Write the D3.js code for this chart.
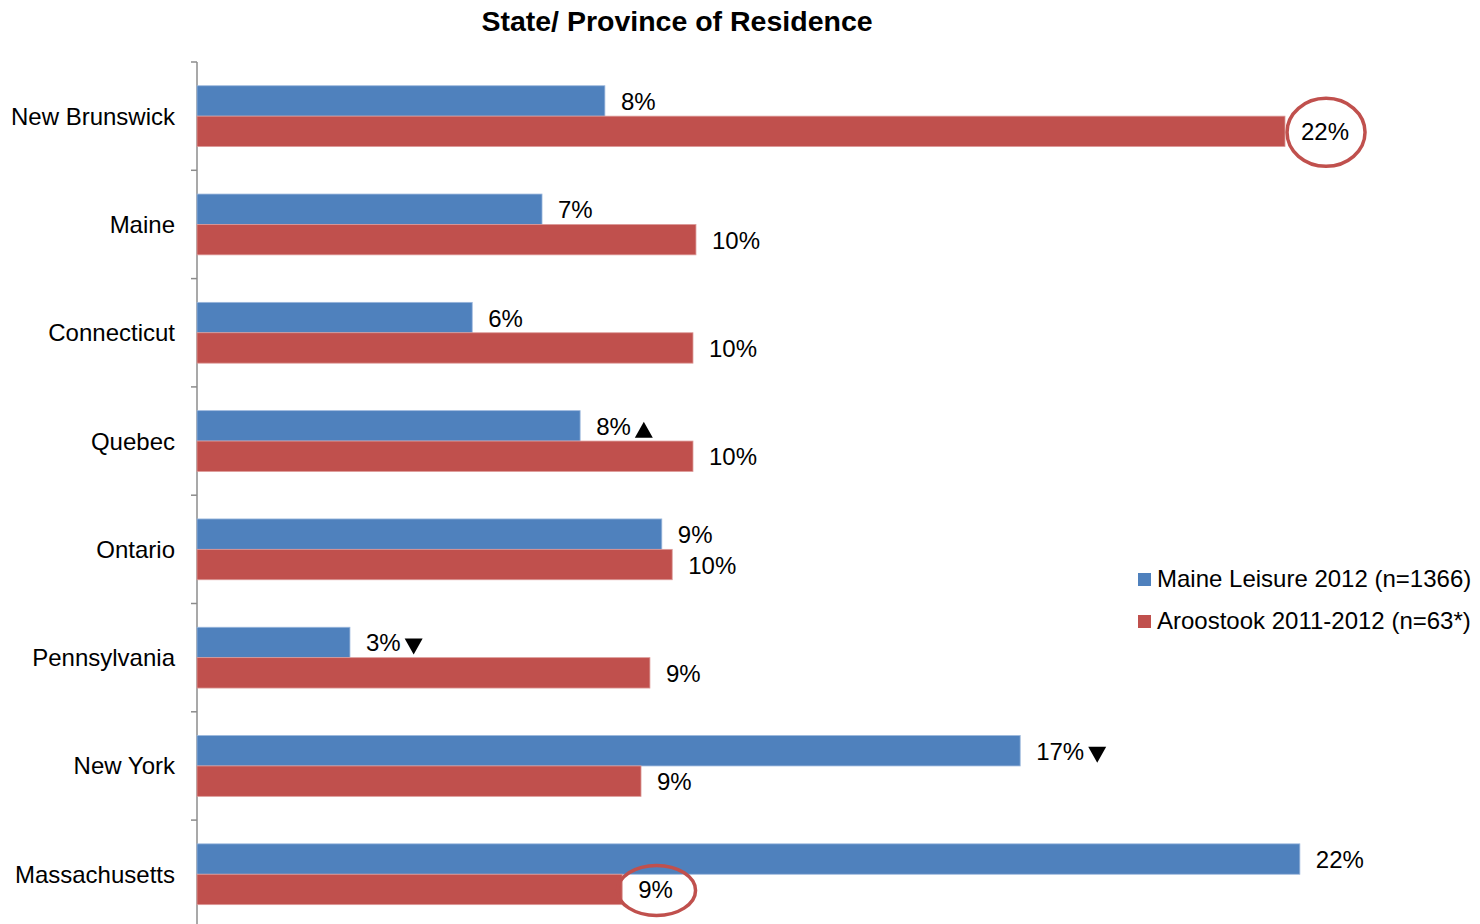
<!DOCTYPE html>
<meta charset="utf-8">
<style>
body { margin: 0; background: #fff; }
text { font-family: "Liberation Sans", Arial, sans-serif; fill: #000; }
.title { font-weight: bold; font-size: 28.5px; }
.cat, .val, .legend { font-size: 24px; }
</style>
<svg width="1480" height="924"></svg>
<script src="https://cdn.jsdelivr.net/npm/d3@7"></script>
<script>

var categories = ["New Brunswick", "Maine", "Connecticut", "Quebec", "Ontario", "Pennsylvania", "New York", "Massachusetts"];
var seriesNames = ["Maine Leisure 2012 (n=1366)", "Aroostook 2011-2012 (n=63*)"];
var maineLeisure = [8.24, 6.97, 5.56, 7.74, 9.39, 3.09, 16.63, 22.28];
var aroostook = [21.98, 10.08, 10.02, 10.02, 9.60, 9.15, 8.97, 8.59];
// significance markers on the Maine Leisure labels
var markers = [null, null, null, "up", null, "down", "down", null];
// circled Aroostook labels
var circled = ["New Brunswick", "Massachusetts"];

var colors = ["#4F81BD", "#C0504D"];

var svg = d3.select("svg");

var x = d3.scaleLinear().domain([0, 26]).range([197, 197 + 26 * 49.5]);
var y = d3.scaleBand().domain(categories).range([62, 62 + 8 * 108.3]);
var bw = y.bandwidth();
var barH = 30.4;
var gap = (bw - 2 * barH) / 2;

svg.append("text").attr("class", "title")
    .attr("x", 677).attr("y", 31)
    .attr("text-anchor", "middle")
    .text("State/ Province of Residence");

// axis line + ticks at band edges
var ax = svg.append("g");
ax.append("line")
    .attr("x1", 197).attr("x2", 197)
    .attr("y1", 62).attr("y2", 62 + 8 * 108.3)
    .attr("stroke", "#8c8c8c").attr("stroke-width", 1.5);
ax.selectAll(".tk").data(categories.concat(["end"])).enter().append("line")
    .attr("x1", 191).attr("x2", 197)
    .attr("y1", function(d, i) { return 62 + i * bw; })
    .attr("y2", function(d, i) { return 62 + i * bw; })
    .attr("stroke", "#8c8c8c").attr("stroke-width", 1.5);

svg.selectAll(".cat").data(categories).enter().append("text")
    .attr("class", "cat")
    .attr("x", 175)
    .attr("y", function(d) { return y(d) + bw / 2 + 8.5; })
    .attr("text-anchor", "end")
    .text(function(d) { return d; });

var series = [maineLeisure, aroostook];

series.forEach(function(vals, s) {
    var g = svg.append("g");
    g.selectAll("rect").data(vals).enter().append("rect")
        .attr("x", x(0))
        .attr("y", function(d, i) { return y(categories[i]) + gap + s * barH; })
        .attr("width", function(d) { return x(d) - x(0); })
        .attr("height", barH)
        .attr("fill", colors[s])
        .attr("stroke", s == 0 ? "#9bb7dc" : "#dc9a98")
        .attr("stroke-width", 0.8);

    g.selectAll("text").data(vals).enter().append("text")
        .attr("class", "val")
        .attr("x", function(d) { return x(d) + 16; })
        .attr("y", function(d, i) { return y(categories[i]) + gap + s * barH + barH / 2 + 9; })
        .text(function(d) { return Math.round(d) + "%"; })
        .each(function(d, i) {
            var t = d3.select(this);
            var w = this.getComputedTextLength();
            var x0 = +t.attr("x"), yc = +t.attr("y") - 9;
            if (s == 0 && markers[i]) {
                var tx = x0 + w + 4, cy = yc + 4;
                var p = markers[i] == "up"
                    ? "M" + tx + "," + (cy + 8) + "L" + (tx + 18) + "," + (cy + 8) + "L" + (tx + 9) + "," + (cy - 8) + "Z"
                    : "M" + tx + "," + (cy - 8) + "L" + (tx + 18) + "," + (cy - 8) + "L" + (tx + 9) + "," + (cy + 8) + "Z";
                svg.append("path").attr("d", p).attr("fill", "#000");
            }
            if (s == 1 && circled.indexOf(categories[i]) >= 0) {
                var ry = categories[i] == "Massachusetts" ? 25 : 34;
                svg.append("ellipse")
                    .attr("cx", x0 + w / 2 + 1).attr("cy", yc + 1)
                    .attr("rx", 39).attr("ry", ry)
                    .attr("fill", "none")
                    .attr("stroke", colors[1]).attr("stroke-width", 3.5);
            }
        });
});

var leg = svg.append("g");
seriesNames.forEach(function(n, i) {
    leg.append("rect")
        .attr("x", 1138).attr("y", 573 + i * 42)
        .attr("width", 13).attr("height", 13)
        .attr("fill", colors[i]);
    leg.append("text").attr("class", "legend")
        .attr("x", 1157).attr("y", 587 + i * 42)
        .text(n);
});

</script>
